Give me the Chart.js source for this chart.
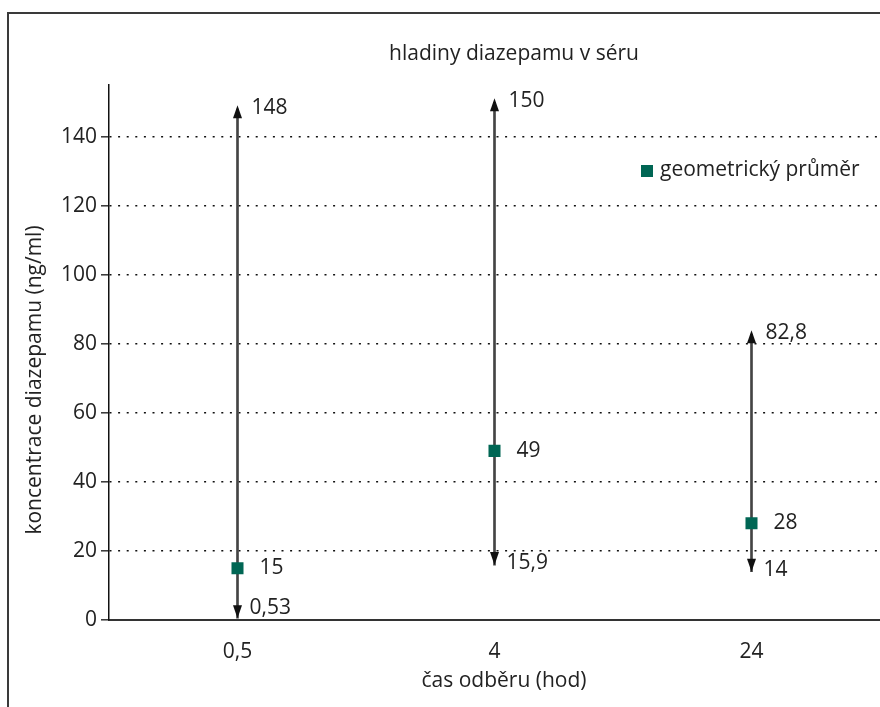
<!DOCTYPE html>
<html>
<head>
<meta charset="utf-8">
<script src="https://cdn.jsdelivr.net/npm/chart.js@4/dist/chart.umd.min.js"></script>
<style>
  body { margin: 0; background: #fff; }
  canvas { display: block; }
</style>
</head>
<body>
<canvas id="myChart" width="880" height="707"></canvas>
<script>
// hladiny diazepamu v séru
var casy = ['0,5', '4', '24']
var geoPrumer = [15, 49, 28]
var minima = [0.53, 15.9, 14]
var maxima = [148, 150, 82.8]
var prumerPopisky = ['15', '49', '28']
var minPopisky = ['0,53', '15,9', '14']
var maxPopisky = ['148', '150', '82,8']

var zelena = '#006654'
var pismo = '"Open Sans", "Noto Sans", sans-serif'

var rozsahy = []
for (var i = 0; i < casy.length; i++) {
    rozsahy.push([minima[i], maxima[i]])
}

var doplnky = {
    id: 'doplnky',
    beforeDraw: function(chart) {
        var ctx = chart.ctx
        ctx.save()
        // ramecek
        ctx.strokeStyle = '#3a3a3a'
        ctx.lineWidth = 2
        ctx.beginPath()
        ctx.moveTo(8, 707)
        ctx.lineTo(8, 13)
        ctx.lineTo(880, 13)
        ctx.stroke()
        ctx.restore()
    },
    afterDatasetsDraw: function(chart) {
        var ctx = chart.ctx
        var x = chart.scales.x
        var y = chart.scales.y
        var area = chart.chartArea
        ctx.save()
        ctx.fillStyle = '#111'
        for (var i = 0; i < casy.length; i++) {
            var px = x.getPixelForValue(i)
            var top = y.getPixelForValue(maxima[i])
            var bot = y.getPixelForValue(minima[i])
            // sipka nahoru
            ctx.beginPath()
            ctx.moveTo(px, top - 4)
            ctx.lineTo(px - 4.5, top + 9)
            ctx.lineTo(px + 4.5, top + 9)
            ctx.closePath()
            ctx.fill()
            // sipka dolu
            ctx.beginPath()
            ctx.moveTo(px, bot)
            ctx.lineTo(px - 4.5, bot - 13)
            ctx.lineTo(px + 4.5, bot - 13)
            ctx.closePath()
            ctx.fill()
        }
        ctx.fillStyle = '#222'
        ctx.font = '21px ' + pismo
        ctx.textAlign = 'left'
        ctx.textBaseline = 'middle'
        for (var j = 0; j < casy.length; j++) {
            var qx = x.getPixelForValue(j)
            ctx.fillText(maxPopisky[j], qx + 14, y.getPixelForValue(maxima[j]) - 1)
            ctx.fillText(minPopisky[j], qx + 12, Math.min(y.getPixelForValue(minima[j]) - 2, area.bottom - 12))
            ctx.fillText(prumerPopisky[j], qx + 22, y.getPixelForValue(geoPrumer[j]))
        }
        // legenda
        ctx.fillStyle = zelena
        ctx.fillRect(641, 165, 12, 12)
        ctx.fillStyle = '#222'
        ctx.fillText('geometrický průměr', 660, 170)
        // titulky
        ctx.textAlign = 'center'
        ctx.fillText('hladiny diazepamu v séru', 514, 54)
        ctx.fillText('čas odběru (hod)', 504, 681)
        ctx.translate(35, 380)
        ctx.rotate(-Math.PI / 2)
        ctx.fillText('koncentrace diazepamu (ng/ml)', 0, 0)
        ctx.restore()
    }
}

var ctx = document.getElementById('myChart')
var myChart = new Chart(ctx, {
    type: 'bar',
    data: {
        labels: casy,
        datasets: [{
            type: 'line',
            label: 'geometrický průměr',
            data: geoPrumer,
            showLine: false,
            pointStyle: 'rect',
            pointRadius: 8.5,
            pointBackgroundColor: zelena,
            pointBorderColor: zelena,
            pointBorderWidth: 0
        }, {
            label: 'rozsah',
            data: rozsahy,
            backgroundColor: '#444',
            barThickness: 2
        }]
    },
    options: {
        responsive: false,
        animation: false,
        layout: { autoPadding: false, padding: { top: 85, left: 0, right: -3, bottom: 0 } },
        plugins: {
            legend: { display: false },
            tooltip: { enabled: false }
        },
        scales: {
            x: {
                grid: { display: false },
                border: { color: '#333', width: 2 },
                ticks: { color: '#222', font: { family: pismo, size: 21 }, padding: 11 },
                afterFit: function(s) {
                    s.height = 87
                    s.paddingLeft = 0
                    s.paddingRight = 0
                }
            },
            y: {
                min: 0,
                max: 155,
                afterBuildTicks: function(s) {
                    s.ticks = s.ticks.filter(function(t) { return t.value <= 140 })
                },
                ticks: { stepSize: 20, color: '#222', font: { family: pismo, size: 21 }, padding: 4 },
                grid: {
                    color: '#111',
                    lineWidth: 1.6,
                    tickLength: 8,
                    tickColor: '#333',
                    tickWidth: 1.5,
                    tickBorderDash: []
                },
                border: { color: '#111', width: 1.5, dash: [2, 6.6] },
                afterFit: function(s) {
                    s.width = 109
                    s.paddingTop = 0
                    s.paddingBottom = 0
                }
            }
        }
    },
    plugins: [doplnky]
})
</script>
</body>
</html>
